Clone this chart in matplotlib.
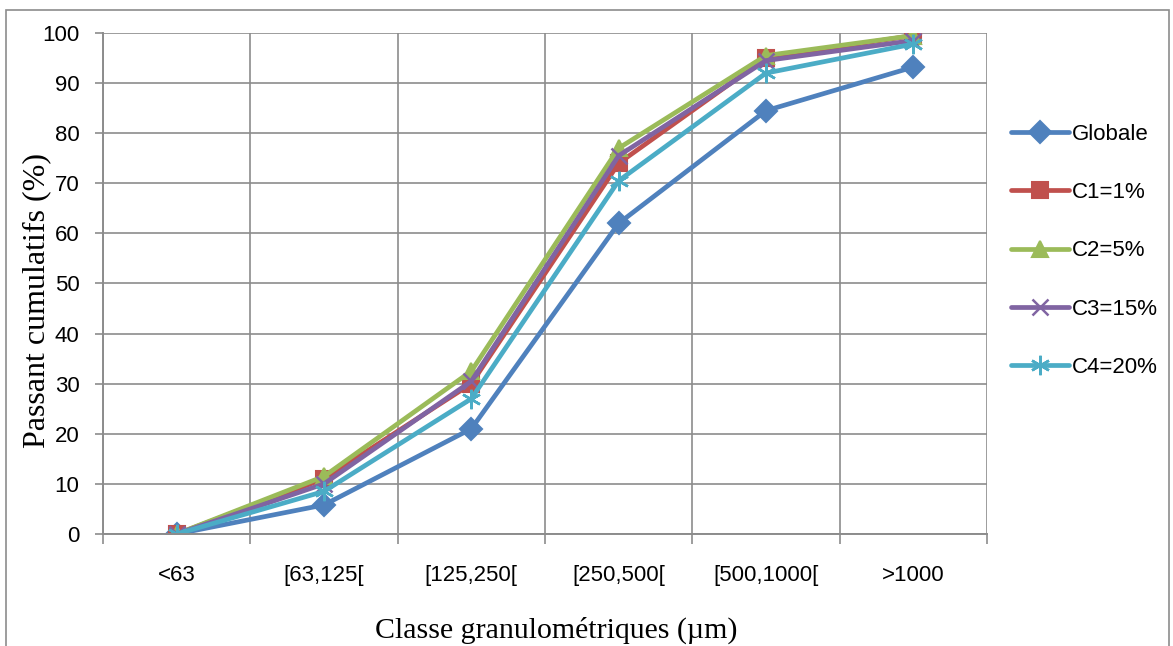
import matplotlib.pyplot as plt
import numpy as np
from matplotlib.patches import Rectangle

classes = ['<63', '[63,125[', '[125,250[', '[250,500[', '[500,1000[', '>1000']
globale = [0, 5.8, 21.0, 62.0, 84.5, 93.2]
c1 = [0, 11.0, 30.0, 74.0, 95.0, 99.5]
c2 = [0, 11.5, 32.5, 77.0, 95.5, 99.5]
c3 = [0, 10.0, 30.5, 75.5, 94.5, 98.5]
c4 = [0, 8.5, 27.0, 70.5, 92.0, 97.8]

series = [
    ('Globale', globale, '#4F81BD', 'D', 11, 'full'),
    ('C1=1%', c1, '#C0504D', 's', 12, 'full'),
    ('C2=5%', c2, '#9BBB59', '^', 12, 'full'),
    ('C3=15%', c3, '#8064A2', 'x', 12, 'none'),
    ('C4=20%', c4, '#4BACC6', (6, 2, 0), 14, 'none'),
]

fig = plt.figure(figsize=(11.73, 6.46), dpi=100)
ax = fig.add_axes([0.0878, 0.1734, 0.7536, 0.7755])

# outer chart frame
fig.patches.append(Rectangle((0.005, -0.1), 0.992, 1.085, transform=fig.transFigure,
                             fill=False, edgecolor='#8c8c8c', linewidth=1.2))

x = np.arange(len(classes))
for label, vals, color, marker, ms, fill in series:
    ax.plot(x, vals, color=color, linewidth=3.4, marker=marker, markersize=ms,
            markeredgewidth=1.5 if fill == 'full' else 1.8, markeredgecolor=color,
            markerfacecolor=color, label=label, solid_capstyle='round')

ax.set_xlim(-0.5, len(classes) - 0.5)
ax.set_ylim(0, 100)
ax.set_yticks(np.arange(0, 101, 10))
ax.set_xticks(x)
ax.set_xticklabels(classes)
ax.set_xticks(np.arange(-0.5, len(classes), 1), minor=True)
ax.tick_params(axis='x', which='major', length=0, pad=22, labelsize=16)
ax.tick_params(axis='x', which='minor', length=7, color='#8c8c8c', width=1.2)
ax.tick_params(axis='y', length=6, color='#8c8c8c', width=1.2, labelsize=16, pad=11)
for lbl in ax.get_xticklabels() + ax.get_yticklabels():
    lbl.set_family('Liberation Sans')

ax.grid(True, which='major', axis='y', color='#8c8c8c', linewidth=1.2)
ax.grid(True, which='minor', axis='x', color='#8c8c8c', linewidth=1.2)
ax.set_axisbelow(True)
for side in ['top', 'right']:
    ax.spines[side].set_visible(False)
for side in ['left', 'bottom']:
    ax.spines[side].set_color('#8c8c8c')
    ax.spines[side].set_linewidth(1.4)

fig.text(37 / 1173, 1 - 300 / 646, 'Passant cumulatifs (%)', family='Liberation Serif',
         fontsize=23, rotation=90, ha='center', va='center')
fig.text(556 / 1173, 1 - 630 / 646, 'Classe granulométriques (µm)', family='Liberation Serif',
         fontsize=21.5, ha='center', va='center')

leg = ax.legend(loc='center left', bbox_to_anchor=(1.0, 0.565), frameon=False,
                prop={'family': 'Liberation Sans', 'size': 16}, labelspacing=1.68,
                handlelength=2.6, handletextpad=0.1, borderaxespad=0.7)

fig.savefig('out.png', dpi=100)
